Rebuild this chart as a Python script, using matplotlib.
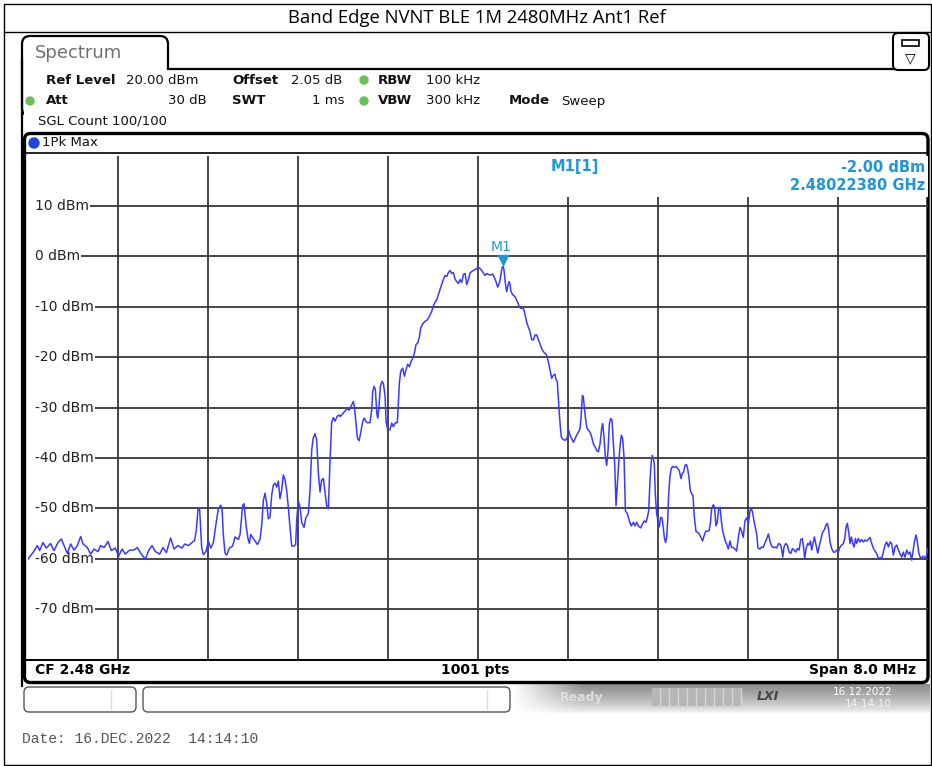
import numpy as np
import matplotlib
matplotlib.use("Agg")
import matplotlib.pyplot as plt
from matplotlib.patches import FancyBboxPatch, Rectangle, Circle

# ---- values ----
title = "Band Edge NVNT BLE 1M 2480MHz Ant1 Ref"
f_start, f_stop = 2476.0, 2484.0          # MHz (CF 2.48 GHz, span 8 MHz)
ref_level, bottom_level = 20, -80         # dBm
y_ticks = [10, 0, -10, -20, -30, -40, -50, -60, -70]
marker_freq = 2480.2238                   # MHz
marker_level = -2.00                      # dBm

freq_mhz = [
    # lower noise floor
    2476.000, 2476.044, 2476.083, 2476.104, 2476.133, 2476.163, 2476.201, 2476.231, 2476.267, 2476.296,
    2476.320, 2476.350, 2476.379, 2476.409, 2476.439, 2476.468, 2476.489, 2476.527, 2476.557, 2476.587,
    2476.622, 2476.646, 2476.676, 2476.711, 2476.741, 2476.776, 2476.806, 2476.836, 2476.865, 2476.904,
    2476.942, 2476.972, 2477.007, 2477.043, 2477.073, 2477.102, 2477.132, 2477.170, 2477.200, 2477.230,
    2477.268, 2477.298, 2477.333, 2477.369, 2477.393, 2477.428, 2477.458, 2477.481, 2477.496, 2477.511,
    2477.526,
    # lower spurs
    2477.544, 2477.559, 2477.582, 2477.603, 2477.624, 2477.648, 2477.662, 2477.692, 2477.713, 2477.725,
    2477.736, 2477.751, 2477.766, 2477.790, 2477.819, 2477.840, 2477.870, 2477.885, 2477.908, 2477.920,
    2477.938, 2477.953, 2477.968, 2477.979, 2477.997, 2478.018, 2478.039, 2478.062, 2478.077, 2478.092,
    2478.107, 2478.122, 2478.136, 2478.151, 2478.166, 2478.181, 2478.196, 2478.210, 2478.225, 2478.240,
    2478.255, 2478.270, 2478.285, 2478.299, 2478.314, 2478.329, 2478.344, 2478.365, 2478.379, 2478.388,
    2478.403, 2478.418, 2478.433, 2478.453, 2478.471, 2478.492, 2478.507, 2478.522, 2478.536, 2478.551,
    2478.566, 2478.581, 2478.596, 2478.610, 2478.625, 2478.640, 2478.655, 2478.670, 2478.685, 2478.699,
    2478.714, 2478.729, 2478.750, 2478.768,
    # rising edge
    2478.774, 2478.803, 2478.833, 2478.857, 2478.877, 2478.892, 2478.901, 2478.913, 2478.928, 2478.943,
    2478.957, 2478.972, 2478.987, 2479.011, 2479.040, 2479.055, 2479.064, 2479.076, 2479.088, 2479.100,
    2479.109, 2479.120, 2479.132, 2479.147, 2479.159, 2479.174, 2479.183, 2479.197, 2479.218, 2479.233,
    2479.248, 2479.263, 2479.283, 2479.292, 2479.301, 2479.313, 2479.331, 2479.346, 2479.360, 2479.375,
    2479.390, 2479.405, 2479.420, 2479.435, 2479.449, 2479.464, 2479.479, 2479.491, 2479.509, 2479.529,
    2479.550, 2479.568, 2479.589, 2479.603, 2479.618, 2479.633, 2479.648, 2479.663, 2479.677, 2479.692,
    2479.707, 2479.722, 2479.737, 2479.752, 2479.766, 2479.781, 2479.796, 2479.811, 2479.826, 2479.840,
    2479.855, 2479.870, 2479.885, 2479.900, 2479.915, 2479.929, 2479.944, 2479.959, 2479.980, 2479.995,
    2480.012, 2480.027, 2480.048, 2480.063, 2480.078, 2480.092,
    # falling edge
    2480.113, 2480.130, 2480.142, 2480.160, 2480.175, 2480.190, 2480.202, 2480.213, 2480.224, 2480.231,
    2480.243, 2480.255, 2480.264, 2480.276, 2480.285, 2480.293, 2480.308, 2480.329, 2480.350, 2480.368,
    2480.379, 2480.397, 2480.409, 2480.421, 2480.433, 2480.448, 2480.462, 2480.477, 2480.492, 2480.507,
    2480.522, 2480.536, 2480.551, 2480.566, 2480.581, 2480.596, 2480.610, 2480.625, 2480.640, 2480.655,
    2480.670, 2480.685, 2480.693, 2480.705, 2480.714, 2480.723, 2480.732, 2480.741, 2480.759, 2480.779,
    2480.794, 2480.806, 2480.818, 2480.833, 2480.848, 2480.862, 2480.877, 2480.892, 2480.907, 2480.916,
    2480.928, 2480.936, 2480.945, 2480.954, 2480.966, 2480.981, 2480.996, 2481.011, 2481.025, 2481.040,
    2481.055, 2481.070, 2481.085, 2481.099, 2481.108, 2481.120, 2481.132, 2481.144, 2481.156, 2481.168,
    2481.179, 2481.191, 2481.203, 2481.215, 2481.227, 2481.239, 2481.250, 2481.262, 2481.274, 2481.286,
    2481.298, 2481.310, 2481.328, 2481.345, 2481.363, 2481.381, 2481.396, 2481.410, 2481.425,
    # upper spurs
    2481.446, 2481.463, 2481.478, 2481.493, 2481.505, 2481.517, 2481.529, 2481.541, 2481.549, 2481.558,
    2481.567, 2481.576, 2481.588, 2481.600, 2481.612, 2481.623, 2481.635, 2481.647, 2481.656, 2481.668,
    2481.677, 2481.686, 2481.695, 2481.706, 2481.718, 2481.730, 2481.745, 2481.760, 2481.775, 2481.789,
    2481.804, 2481.816, 2481.828, 2481.840, 2481.852, 2481.863, 2481.875, 2481.887, 2481.899, 2481.911,
    2481.923, 2481.938, 2481.952, 2481.967, 2481.982, 2481.997, 2482.009, 2482.023, 2482.038, 2482.053,
    2482.065, 2482.077, 2482.092, 2482.103, 2482.115, 2482.127, 2482.139, 2482.151, 2482.163, 2482.175,
    2482.186, 2482.198, 2482.210, 2482.225, 2482.240, 2482.255, 2482.269, 2482.284, 2482.299, 2482.314,
    2482.329, 2482.343, 2482.358, 2482.373, 2482.388, 2482.403, 2482.418, 2482.429, 2482.441, 2482.453,
    2482.465, 2482.477, 2482.489, 2482.506, 2482.521, 2482.536, 2482.551, 2482.566, 2482.581, 2482.595,
    2482.610, 2482.625, 2482.640, 2482.655, 2482.669,
    # upper noise floor
    2482.679, 2482.694, 2482.709, 2482.720, 2482.735, 2482.750, 2482.765, 2482.780, 2482.795, 2482.809,
    2482.824, 2482.839, 2482.854, 2482.869, 2482.883, 2482.895, 2482.904, 2482.916, 2482.931, 2482.943,
    2482.955, 2482.966, 2482.978, 2482.990, 2483.005, 2483.020, 2483.035, 2483.049, 2483.064, 2483.079,
    2483.094, 2483.106, 2483.117, 2483.129, 2483.144, 2483.159, 2483.174, 2483.189, 2483.203, 2483.218,
    2483.233, 2483.248, 2483.260, 2483.272, 2483.283, 2483.295, 2483.307, 2483.319, 2483.331, 2483.343,
    2483.355, 2483.366, 2483.381, 2483.396, 2483.411, 2483.426, 2483.440, 2483.455, 2483.470, 2483.485,
    2483.500, 2483.515, 2483.529, 2483.544, 2483.559, 2483.574, 2483.589, 2483.603, 2483.618, 2483.633,
    2483.648, 2483.663, 2483.677, 2483.692, 2483.707, 2483.722, 2483.737, 2483.752, 2483.766, 2483.781,
    2483.796, 2483.811, 2483.826, 2483.840, 2483.855, 2483.870, 2483.882, 2483.894, 2483.906, 2483.917,
    2483.929, 2483.944, 2483.959, 2483.974, 2483.983, 2484.000,
]

level_dbm = [
    # lower noise floor
    -60.1, -58.8, -57.4, -58.4, -56.8, -57.9, -57.0, -58.4, -56.8, -56.1,
    -57.4, -59.0, -57.1, -58.3, -57.4, -55.6, -57.1, -57.8, -59.1, -58.1,
    -58.6, -57.4, -57.8, -56.6, -58.4, -57.9, -59.5, -58.1, -59.1, -58.3,
    -58.3, -57.8, -59.1, -60.1, -58.4, -57.4, -58.6, -59.1, -57.8, -58.8,
    -55.9, -58.1, -57.4, -57.9, -57.1, -57.4, -56.8, -56.4, -54.4, -50.2,
    -50.3,
    # lower spurs
    -57.9, -59.2, -58.6, -56.5, -57.9, -56.8, -54.5, -50.1, -49.4, -50.1,
    -55.2, -58.9, -59.3, -57.9, -57.5, -55.7, -56.2, -55.2, -49.4, -49.1,
    -53.2, -55.8, -57.0, -55.2, -55.8, -56.5, -57.2, -56.2, -53.5, -48.5,
    -47.0, -49.1, -52.1, -51.8, -47.4, -45.4, -45.0, -45.8, -44.6, -48.1,
    -46.4, -43.4, -44.4, -46.4, -49.8, -53.8, -57.5, -57.5, -57.2, -52.5,
    -48.5, -49.8, -52.8, -53.8, -51.8, -51.1, -46.4, -38.4, -36.0, -35.2,
    -36.4, -43.1, -46.8, -44.4, -44.1, -46.8, -49.5, -50.1, -40.4, -33.0,
    -32.0, -32.7, -31.7, -31.5,
    # rising edge
    -31.8, -31.1, -30.3, -30.5, -29.5, -28.8, -29.8, -32.5, -36.1, -36.6,
    -35.1, -33.1, -32.1, -33.0, -33.0, -30.5, -26.8, -25.8, -26.5, -31.1,
    -32.1, -29.8, -25.8, -24.8, -25.2, -27.8, -32.8, -34.4, -34.4, -33.1,
    -33.8, -33.1, -33.0, -29.1, -25.2, -22.8, -22.2, -23.8, -22.5, -21.4,
    -21.9, -20.9, -20.2, -19.2, -17.5, -17.2, -16.0, -14.2, -13.4, -12.9,
    -12.6, -11.9, -10.9, -9.8, -9.1, -8.6, -7.6, -6.5, -5.6, -4.6,
    -3.8, -4.0, -3.2, -2.8, -3.4, -3.2, -4.5, -5.0, -5.4, -4.6,
    -5.2, -3.6, -3.4, -5.6, -4.6, -3.3, -3.0, -2.8, -2.5, -2.3,
    -2.3, -2.6, -3.3, -3.8, -3.4, -3.6,
    # falling edge
    -3.7, -3.5, -4.0, -5.0, -6.1, -5.3, -4.0, -2.3, -2.0, -2.7,
    -5.3, -7.0, -6.0, -5.0, -5.6, -7.0, -7.6, -8.0, -9.0, -10.0,
    -10.3, -10.3, -10.6, -11.9, -13.1, -14.1, -14.9, -16.5, -16.6, -15.6,
    -15.6, -16.5, -17.4, -18.3, -18.9, -19.3, -19.6, -20.9, -22.6, -24.2,
    -23.6, -23.4, -24.4, -24.9, -28.2, -31.2, -33.9, -35.9, -36.4, -36.5,
    -35.9, -34.5, -35.5, -36.2, -36.9, -36.2, -35.5, -34.9, -34.2, -31.9,
    -27.6, -27.9, -29.9, -31.9, -33.9, -34.5, -34.9, -35.9, -37.2, -37.8,
    -38.5, -38.8, -37.2, -34.2, -33.2, -35.9, -39.8, -41.5, -38.5, -33.2,
    -32.2, -32.5, -37.2, -41.2, -49.5, -45.2, -41.2, -37.8, -35.5, -36.2,
    -39.8, -50.5, -51.1, -52.5, -53.5, -52.8, -53.5, -52.8, -53.5,
    # upper spurs
    -53.9, -53.1, -52.5, -52.8, -51.9, -50.5, -44.5, -40.5, -39.5, -40.1,
    -41.1, -47.1, -51.1, -52.5, -53.7, -51.8, -51.9, -53.8, -55.8, -56.8,
    -55.8, -52.5, -47.1, -43.8, -42.1, -41.7, -41.9, -41.7, -42.1, -42.5,
    -44.1, -43.1, -42.8, -41.5, -41.3, -42.1, -43.8, -46.5, -47.1, -47.5,
    -51.8, -54.6, -54.8, -55.1, -55.8, -56.5, -55.5, -54.6, -54.5, -54.5,
    -53.1, -50.1, -49.3, -49.8, -53.5, -52.8, -50.1, -49.8, -52.5, -54.5,
    -55.5, -56.5, -57.1, -58.1, -56.5, -57.8, -57.8, -58.1, -58.5, -55.8,
    -53.8, -54.5, -55.8, -52.5, -51.9, -53.1, -50.5, -50.1, -50.8, -52.5,
    -53.8, -55.1, -57.9, -58.1, -57.7, -57.8, -56.8, -56.1, -55.1, -56.5,
    -57.5, -57.8, -57.7, -57.9, -57.1,
    # upper noise floor
    -57.0, -57.5, -59.7, -57.7, -57.0, -57.3, -58.7, -59.0, -58.0, -58.3,
    -58.7, -58.0, -58.3, -56.2, -56.0, -58.0, -60.0, -58.0, -57.0, -57.3,
    -56.5, -58.3, -57.0, -55.7, -57.3, -58.9, -57.3, -56.0, -54.7, -54.3,
    -53.3, -53.0, -54.3, -56.7, -58.0, -58.7, -58.7, -58.3, -58.7, -57.7,
    -57.3, -57.0, -56.0, -53.7, -53.0, -54.7, -57.0, -55.7, -57.0, -57.7,
    -56.0, -57.0, -56.0, -56.7, -56.2, -56.7, -56.3, -56.5, -56.2, -55.8,
    -57.0, -58.0, -58.5, -59.0, -60.0, -59.8, -60.0, -58.7, -57.3, -56.7,
    -57.7, -56.7, -57.0, -59.3, -57.7, -57.3, -58.3, -59.1, -59.7, -58.7,
    -59.7, -58.3, -59.1, -58.7, -60.3, -58.0, -56.3, -55.3, -56.7, -58.7,
    -59.7, -59.8, -59.5, -59.8, -59.7, -58.0,
]

W, H = 932, 766
fig = plt.figure(figsize=(W / 100, H / 100), dpi=100)

# background axes in pixel units for the screen furniture
bg = fig.add_axes([0, 0, 1, 1])
bg.set_xlim(0, W)
bg.set_ylim(H, 0)
bg.axis("off")

cyan = "#1e96d8"
green = "#6cc05a"

# page border + title row
bg.add_patch(Rectangle((4, 4), 927, 761, fill=False, ec="black", lw=1))
bg.plot([4, 931], [32, 32], color="black", lw=1)
bg.text(477, 18, title, ha="center", va="center", fontsize=13.3, family="Open Sans")

# Spectrum tab
bg.add_patch(FancyBboxPatch((22, 36), 146, 80, boxstyle="round,pad=0,rounding_size=8",
                            fc="white", ec="black", lw=1.6, zorder=1))
bg.add_patch(Rectangle((23.5, 69), 146, 60, fc="white", ec="none", zorder=1.5))
bg.plot([22, 22], [60, 686], color="black", lw=1.6, zorder=2)
bg.plot([168, 893], [69, 69], color="black", lw=1.6, zorder=2)
bg.text(35, 53, "Spectrum", fontsize=13, color="#707070", va="center", zorder=3)

# icon box at the top right
bg.add_patch(FancyBboxPatch((893, 33), 36, 37, boxstyle="round,pad=0,rounding_size=5",
                            fc="white", ec="black", lw=1.5, zorder=2))
bg.add_patch(Rectangle((902, 40), 17, 6, fc="white", ec="black", lw=1.2, zorder=3))
bg.text(910.5, 58, "\u25BD", ha="center", va="center", fontsize=10, zorder=3)

# setting lines
def hdr(x, y, s, bold=False, ha="left"):
    bg.text(x, y, s, fontsize=9.5, fontweight="bold" if bold else "normal",
            ha=ha, va="center", color="#111111", zorder=3)

def dot(x, y, c=green, r=4):
    bg.add_patch(Circle((x, y), r, color=c, zorder=3))

hdr(46, 80, "Ref Level", True)
hdr(126, 80, "20.00 dBm")
hdr(232, 80, "Offset", True)
hdr(291, 80, "2.05 dB")
dot(364, 80)
hdr(378, 80, "RBW", True)
hdr(426, 80, "100 kHz")

dot(30, 101)
hdr(46, 101, "Att", True)
hdr(207, 101, "30 dB", ha="right")
hdr(232, 101, "SWT", True)
hdr(345, 101, "1 ms", ha="right")
dot(364, 101)
hdr(378, 101, "VBW", True)
hdr(426, 101, "300 kHz")
hdr(509, 101, "Mode", True)
hdr(561, 101, "Sweep")
hdr(38, 121, "SGL Count 100/100")

# diagram frame
bg.add_patch(FancyBboxPatch((24.5, 133.5), 903.5, 549, boxstyle="round,pad=0,rounding_size=6",
                            fc="none", ec="black", lw=2.4, zorder=4))
bg.plot([25, 928], [152.5, 152.5], color="black", lw=1.2, zorder=4)
bg.plot([25, 928], [659.8, 659.8], color="black", lw=1.4, zorder=4)
dot(34, 143, c="#2344d8", r=5)
bg.text(42, 143, "1Pk Max", fontsize=9.5, va="center", color="#111111", zorder=5)

bg.text(35, 670, "CF 2.48 GHz", fontsize=10, fontweight="bold", va="center", zorder=5)
bg.text(475, 670, f"{1001} pts", fontsize=10, fontweight="bold", ha="center", va="center", zorder=5)
bg.text(916, 670, f"Span {f_stop - f_start:.1f} MHz", fontsize=10, fontweight="bold",
        ha="right", va="center", zorder=5)

# status bar
bg.add_patch(FancyBboxPatch((24, 687), 112, 25, boxstyle="round,pad=0,rounding_size=5",
                            fc="white", ec="#555555", lw=1))
bg.plot([111, 111], [690, 709], color="#dddddd", lw=1)
bg.add_patch(FancyBboxPatch((143, 687), 367, 25, boxstyle="round,pad=0,rounding_size=5",
                            fc="white", ec="#555555", lw=1))
bg.plot([487, 487], [690, 709], color="#dddddd", lw=1)
gx = np.linspace(0, 1, 200)
gy = np.linspace(0, 1, 40)
ramp = np.clip(gx * 6, 0, 1)
fade = 0.45 * (1 - gy) ** 0.7
grad = 1 - np.outer(fade, ramp)
bg.imshow(grad, cmap="gray", vmin=0, vmax=1, extent=(512, 930, 714, 684),
          aspect="auto", zorder=0.5)
bg.text(582, 697, "Ready", fontsize=9, fontweight="bold", color="#dedede", ha="center", va="center")
bg.add_patch(Rectangle((652, 688), 90, 18, fc="#b6b6b6", ec="none", zorder=1))
for xx in range(660, 742, 9):
    bg.plot([xx, xx], [689, 705], color="#d6d6d6", lw=1, zorder=1.2)
bg.text(768, 697, "LXI", fontsize=9, fontweight="bold", style="italic", color="#444444",
        ha="center", va="center")
bg.text(863, 692, "16.12.2022", fontsize=7.5, color="white", ha="center", va="center")
bg.text(868, 704, "14:14:10", fontsize=7.5, color="#f2f2f2", ha="center", va="center")

bg.text(22, 739, "Date: 16.DEC.2022  14:14:10", fontsize=10.5, family="Liberation Mono",
        color="#555555", va="center")

# plot area
px_top = 206 - 10 * 5.0375
px_bot = 609 + 10 * 5.0375
ax = fig.add_axes([28 / W, 1 - px_bot / H, 900 / W, (px_bot - px_top) / H])
ax.set_xlim(f_start, f_stop)
ax.set_ylim(bottom_level, ref_level)
ax.patch.set_visible(False)
for s in ax.spines.values():
    s.set_visible(False)
ax.set_xticks([])
ax.set_yticks([])

grid_c = "#383838"
div = (f_stop - f_start) / 10
for i in range(1, 10):
    ax.axvline(f_start + i * div, color=grid_c, lw=1.3, zorder=1)

# marker info area covers the upper grid on the right
ax.add_patch(Rectangle((f_start + 452 * 8 / 900, 11.8), f_stop - f_start - 452 * 8 / 900, 8.2,
                       fc="white", ec="none", zorder=2))

labels = []
for v in y_ticks:
    t = ax.text(f_start + 7 * 8 / 900, v, f"{v} dBm", fontsize=10, color="#222222",
                va="center", ha="left", zorder=3)
    labels.append(t)
fig.canvas.draw()
rend = fig.canvas.get_renderer()
for t, v in zip(labels, y_ticks):
    bb = t.get_window_extent(rend)
    x0 = ax.transData.inverted().transform((bb.x1 + 1, 0))[0]
    ax.hlines(v, x0, f_stop, color=grid_c, lw=1.3, zorder=1)

ax.plot(freq_mhz, level_dbm, color="#3a3aff", lw=1.1, zorder=5)

ax.plot(marker_freq, marker_level + 1.2, marker="v", ms=7, color=cyan, mec=cyan, zorder=6)
ax.text(marker_freq - 0.02, marker_level + 3.8, "M1", fontsize=10, color=cyan,
        ha="center", va="center", zorder=6)

ax.text(575, 167, "M1[1]", transform=bg.transData, fontsize=10.5, fontweight="bold",
        color=cyan, ha="center", va="center", zorder=7)
ax.text(925, 167, f"{marker_level:.2f} dBm", transform=bg.transData, fontsize=10.5,
        fontweight="bold", color=cyan, ha="right", va="center", zorder=7)
ax.text(925, 186, f"{marker_freq / 1000:.8f} GHz", transform=bg.transData, fontsize=10.5,
        fontweight="bold", color=cyan, ha="right", va="center", zorder=7)

fig.savefig("out.png", dpi=100)
